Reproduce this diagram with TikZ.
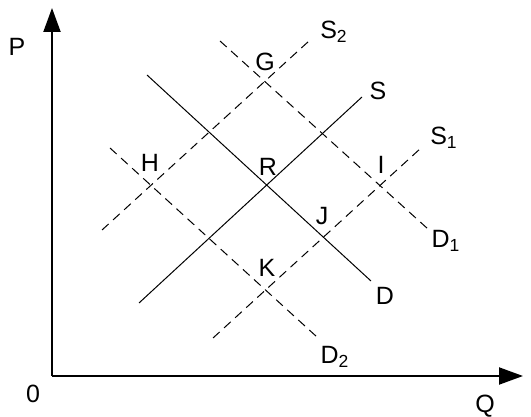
\documentclass[tikz,border=0pt]{standalone}
\usepackage{fontspec}
\setmainfont{Liberation Sans}
\usetikzlibrary{arrows.meta}
\begin{document}
\begin{tikzpicture}[x=0.5pt,y=-0.5pt,
		font=\fontsize{12.5}{14}\selectfont,
		curve/.style={line width=0.5pt},
		shifted/.style={curve,dash pattern=on 4.5pt off 3pt},
		axis/.style={line width=1pt,-{Triangle[length=12pt,width=8.5pt]}}]
		\useasboundingbox (0,0) rectangle (531,417);
		
		\coordinate (O) at (52,376);
		\coordinate (Ptip) at (52,8);
		\coordinate (Qtip) at (523,376);
		\draw[axis] (O) to (Ptip);
		\draw[axis] (O) to (Qtip);
		\node (P) at (17,47) {P};
		\node (zero) at (33,394) {0};
		\node (Q) at (485,406) {Q};
		
		\coordinate (Da) at (147,75);
		\coordinate (Db) at (371,281);
		\coordinate (Sa) at (139,303);
		\coordinate (Sb) at (362,97);
		\coordinate (S2a) at (102,230);
		\coordinate (S2b) at (309,41);
		\coordinate (D1a) at (220,41);
		\coordinate (D1b) at (428,229);
		\coordinate (S1a) at (213,338);
		\coordinate (S1b) at (421,148);
		\coordinate (D2a) at (110,148);
		\coordinate (D2b) at (317,337);
		
		\draw[curve] (Da) to (Db);
		\draw[curve] (Sa) to (Sb);
		\draw[shifted] (S2a) to (S2b);
		\draw[shifted] (D1a) to (D1b);
		\draw[shifted] (S1a) to (S1b);
		\draw[shifted] (D2a) to (D2b);
		
		\node (D) at (385,296) {D};
		\node (S) at (378,91) {S};
		\node (S2) at (334,32) {S\textsubscript{2}};
		\node (D1) at (446,241) {D\textsubscript{1}};
		\node (S1) at (444,138) {S\textsubscript{1}};
		\node (D2) at (335,357) {D\textsubscript{2}};
		
		\node (G) at (265,62) {G};
		\node (H) at (150,163) {H};
		\node (R) at (268,167) {R};
		\node (I) at (381,165) {I};
		\node (J) at (322,216) {J};
		\node (K) at (267,268) {K};
\end{tikzpicture}
\end{document}
